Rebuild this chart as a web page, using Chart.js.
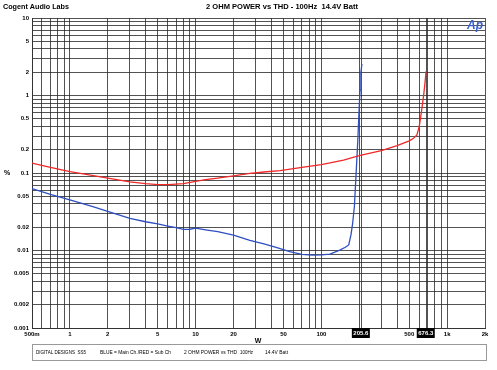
<!DOCTYPE html>
<html><head><meta charset="utf-8">
<script src="https://cdn.jsdelivr.net/npm/chart.js@4.4.1/dist/chart.umd.min.js"></script>
<style>html,body{margin:0;padding:0;background:#fff}#wrap{width:497px;height:370px;position:relative}</style>
</head><body><div id="wrap"><canvas id="c" width="497" height="370"></canvas></div>
<script>
// Data (W, %THD)
const powerRed = [0.5,0.7,1,1.5,2,3,4,5,6,7,8,10,12,15,20,27,35,47,70,100,150,200,300,400,500,540,575,600,625,650,665,680];
const thdRed   = [0.134,0.118,0.104,0.093,0.086,0.077,0.073,0.071,0.071,0.072,0.073,0.078,0.082,0.086,0.092,0.099,0.103,0.107,0.118,0.128,0.147,0.167,0.195,0.225,0.26,0.28,0.31,0.40,0.62,1.0,1.4,2.05];
const powerBlue = [0.5,0.7,1,1.5,2,3,4,5,6,7,8,9,10,12,15,20,27,35,45,56,70,85,100,117,140,155,165,172,177,183,189,195,200,203,206,210];
const thdBlue   = [0.063,0.053,0.045,0.037,0.032,0.026,0.0235,0.022,0.0207,0.0197,0.0187,0.0188,0.0194,0.0185,0.0175,0.0158,0.0135,0.0122,0.0108,0.0097,0.0089,0.0087,0.0088,0.0090,0.0101,0.0110,0.0118,0.016,0.022,0.037,0.10,0.27,0.72,1.17,1.97,2.55];
const xTickValues = [0.5,1,2,5,10,20,50,100,500,1000,2000];
const xTickLabels = ['500m','1','2','5','10','20','50','100','500','1k','2k'];
const yTickValues = [10,5,2,1,0.5,0.2,0.1,0.05,0.02,0.01,0.005,0.002,0.001];
const yTickLabels = ['10','5','2','1','0.5','0.2','0.1','0.05','0.02','0.01','0.005','0.002','0.001'];
const cursorX = [206, 676];
const cursorLabels = ['205.6', '676.3'];
const footerTexts = ['DIGITAL DESIGNS  SS5', 'BLUE = Main Ch./RED = Sub Ch', '2 OHM POWER vs THD', '100Hz', '14.4V Batt'];

function fullLogTicks(min, max) {
  const out = [];
  for (let e = -4; e <= 4; e++) {
    for (let m = 1; m <= 9; m++) {
      const v = +(m * Math.pow(10, e)).toPrecision(6);
      if (v >= min * 0.9999 && v <= max * 1.0001) out.push({value: v});
    }
  }
  return out;
}
function labelFor(v, vals, labs) {
  for (let i = 0; i < vals.length; i++) if (Math.abs(vals[i] - v) / vals[i] < 1e-6) return labs[i];
  return '';
}
const FONT = 'Liberation Sans, Arial, sans-serif';
const GRID = 'rgba(40,40,40,0.8)';

const overlay = {
  id: 'overlay',
  beforeDatasetsDraw(chart) {
    const ctx = chart.ctx, x = chart.scales.x, a = chart.chartArea;
    ctx.save();
    ctx.strokeStyle = GRID; ctx.lineWidth = 1;
    cursorX.forEach(v => {
      const px = Math.round(x.getPixelForValue(v)) + 0.5;
      ctx.beginPath(); ctx.moveTo(px, a.top); ctx.lineTo(px, a.bottom); ctx.stroke();
    });
    ctx.restore();
  },
  afterDraw(chart) {
    const ctx = chart.ctx, x = chart.scales.x, a = chart.chartArea;
    ctx.save();
    ctx.fillStyle = '#000';
    ctx.textBaseline = 'middle';
    ctx.font = 'bold 8px ' + FONT;
    ctx.textAlign = 'left';
    ctx.fillText('Cogent Audio Labs', 3, 7, 66);
    ctx.textAlign = 'center';
    ctx.fillText('2 OHM POWER vs THD - 100Hz  14.4V Batt', 282, 7, 152);
    ctx.font = 'bold 7px ' + FONT;
    ctx.fillText('%', 7, 173);
    ctx.fillText('W', 258, 341);
    // Ap logo
    ctx.font = 'italic bold 12px ' + FONT;
    ctx.fillStyle = '#3a5fd0';
    ctx.textAlign = 'right';
    ctx.fillText('Ap', a.right - 2, a.top + 8);
    // cursor readouts
    ctx.font = 'bold 6px ' + FONT;
    ctx.textAlign = 'center';
    cursorX.forEach((v, i) => {
      const px = x.getPixelForValue(v);
      ctx.fillStyle = '#000';
      ctx.fillRect(px - 9, a.bottom, 18, 10);
      ctx.fillStyle = '#fff';
      ctx.fillText(cursorLabels[i], px, a.bottom + 5, 16);
    });
    // footer box
    ctx.setLineDash([1, 1]);
    ctx.strokeStyle = '#333';
    ctx.strokeRect(32.5, 344.5, 454, 16);
    ctx.setLineDash([]);
    ctx.fillStyle = '#000';
    ctx.font = '5.5px ' + FONT;
    ctx.textAlign = 'left';
    const fx = [36, 100, 184, 240, 265];
    const fw = [50, 71, 53, 13, 23];
    footerTexts.forEach((t, i) => ctx.fillText(t, fx[i], 352.5, fw[i]));
    ctx.restore();
  }
};

new Chart(document.getElementById('c'), {
  type: 'line',
  data: {
    datasets: [
      { label: 'Sub Ch', data: powerRed.map((p, i) => ({x: p, y: thdRed[i]})), borderColor: '#f02828', borderWidth: 1.3, pointRadius: 0, tension: 0 },
      { label: 'Main Ch', data: powerBlue.map((p, i) => ({x: p, y: thdBlue[i]})), borderColor: '#2f4fc0', borderWidth: 1.3, pointRadius: 0, tension: 0 }
    ]
  },
  options: {
    responsive: false, animation: false, devicePixelRatio: 1,
    layout: { padding: { left: 0, top: 18, right: 12, bottom: 0 } },
    plugins: { legend: { display: false }, tooltip: { enabled: false } },
    scales: {
      x: {
        type: 'logarithmic', min: 0.5, max: 2000,
        afterBuildTicks: s => { s.ticks = fullLogTicks(0.5, 2000); },
        afterFit: s => { s.height = 42; },
        ticks: { autoSkip: false, maxRotation: 0, padding: 3, color: '#000', font: { family: FONT, size: 6, weight: 'bold' },
          callback: v => labelFor(v, xTickValues, xTickLabels) },
        grid: { color: GRID, lineWidth: 1, drawTicks: false },
        border: { color: '#333', width: 1 }
      },
      y: {
        type: 'logarithmic', min: 0.001, max: 10,
        afterBuildTicks: s => { s.ticks = fullLogTicks(0.001, 10); },
        afterFit: s => { s.width = 32; },
        ticks: { autoSkip: false, padding: 3, color: '#000', font: { family: FONT, size: 6, weight: 'bold' },
          callback: v => labelFor(v, yTickValues, yTickLabels) },
        grid: { color: GRID, lineWidth: 1, drawTicks: false },
        border: { color: '#333', width: 1 }
      }
    }
  },
  plugins: [overlay]
});
</script></body></html>
